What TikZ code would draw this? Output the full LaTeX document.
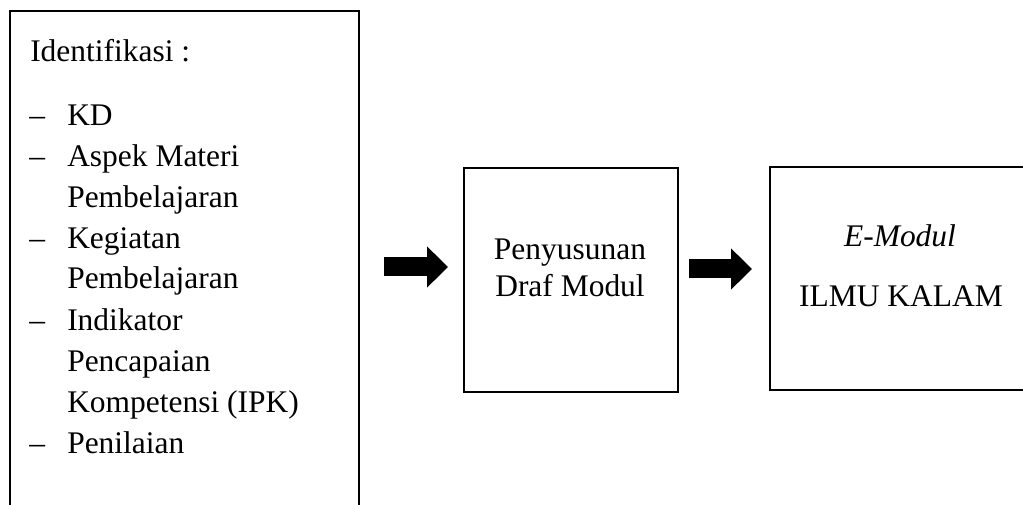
\documentclass[tikz,border=0pt]{standalone}
\usepackage{fontspec}
\setmainfont{Liberation Serif}
\usetikzlibrary{arrows.meta}

\begin{document}
\begin{tikzpicture}[x=0.75pt, y=-0.75pt,
  box/.style={draw=black, line width=1.5pt, fill=white, rectangle, inner sep=0pt},
  txt/.style={inner sep=0pt, font=\fontsize{23.6}{30}\selectfont},
  item/.style={txt, anchor=base west},
  mid/.style={txt, anchor=base},
  bigarrow/.style={line width=14.25pt, -{Triangle[width=30pt, length=15.75pt]}}]

  \useasboundingbox (0,0) rectangle (1023,505);
  \clip (0,0) rectangle (1023,505);

  % boxes (left box runs past the lower edge, right box past the right edge)
  \node[box, minimum width=349*0.75pt, minimum height=560*0.75pt, anchor=north west] (ident) at (9,10) {};
  \node[box, minimum width=214*0.75pt, minimum height=224*0.75pt, anchor=north west] (draf) at (463,167) {};
  \node[box, minimum width=300*0.75pt, minimum height=223*0.75pt, anchor=north west] (emodul) at (769,166) {};

  % list of identified items
  \node[item] (t0) at (30,62) {Identifikasi :};
  \node[item] (d1) at (29,126) {–};
  \node[item] (t1) at (67,126) {KD};
  \node[item] (d2) at (29,167) {–};
  \node[item] (t2) at (67,167) {Aspek Materi};
  \node[item] (t3) at (67,207.5) {Pembelajaran};
  \node[item] (d4) at (29,248.5) {–};
  \node[item] (t4) at (67,248.5) {Kegiatan};
  \node[item] (t5) at (67,289) {Pembelajaran};
  \node[item] (d6) at (29,331) {–};
  \node[item] (t6) at (67,331) {Indikator};
  \node[item] (t7) at (67,371.5) {Pencapaian};
  \node[item] (t8) at (67,412) {Kompetensi (IPK)};
  \node[item] (d9) at (29,453) {–};
  \node[item] (t9) at (67,453) {Penilaian};

  % middle box text
  \node[mid] (m1) at (570,260) {Penyusunan};
  \node[mid] (m2) at (570,297) {Draf Modul};

  % right box text
  \node[mid] (r1) at (900,247) {\itshape E-Modul};
  \node[mid] (r2) at (901,307) {ILMU KALAM};

  % block arrows between the stages
  \coordinate (a1s) at (384,267);
  \coordinate (a1e) at (448,267);
  \coordinate (a2s) at (689,269);
  \coordinate (a2e) at (752,269);
  \draw[bigarrow] (a1s) -- (a1e);
  \draw[bigarrow] (a2s) -- (a2e);
\end{tikzpicture}
\end{document}
